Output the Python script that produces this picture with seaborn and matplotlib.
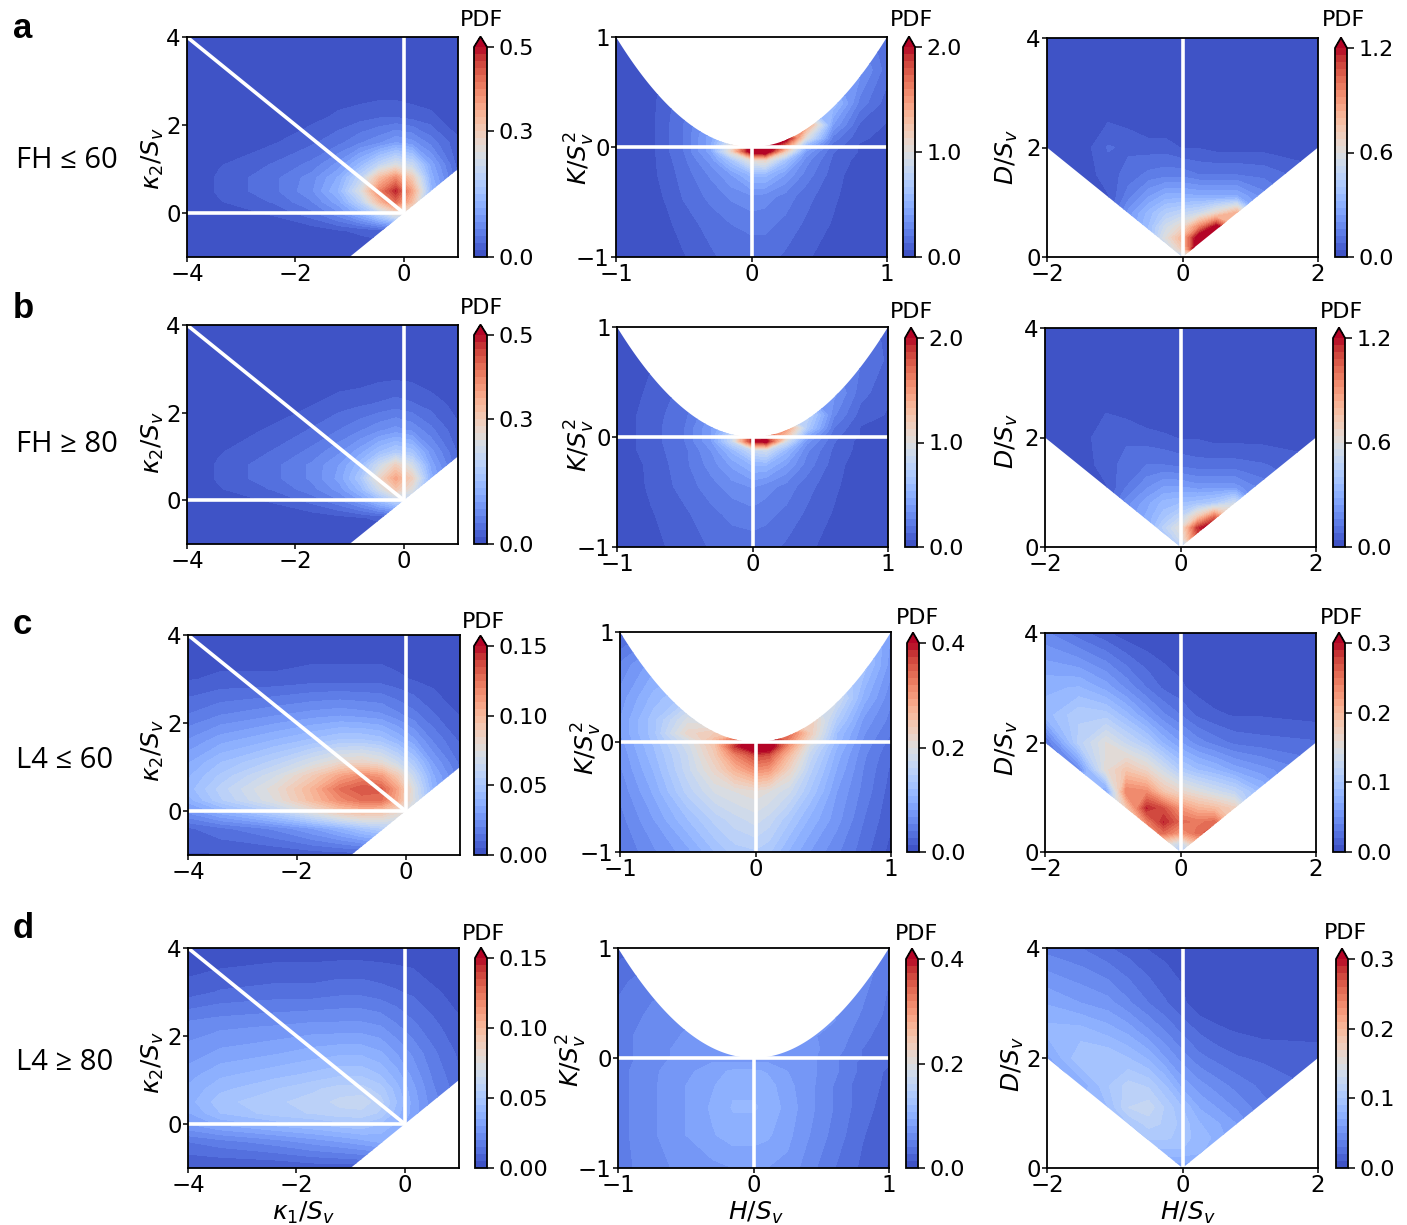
# recreate curvature PDF panels (contourf on hand read grids)
import numpy as np
import matplotlib
matplotlib.use("Agg")
import matplotlib.pyplot as plt
from matplotlib.patches import Polygon
import seaborn as sns

W, H = 1407, 1225

# grid coordinates for each column
k1_x = [-4, -3.4, -2.4, -1.7, -1.2, -0.8, -0.45, -0.15, 0.15, 0.5, 1]
k2_y = [-1, -0.4, 0, 0.25, 0.5, 0.8, 1.1, 1.6, 2.2, 3, 4]
h_x = [-1, -0.75, -0.5, -0.3, -0.15, 0, 0.1, 0.25, 0.4, 0.6, 0.8, 1]
k_y = [-1, -0.7, -0.45, -0.25, -0.12, -0.04, 0.02, 0.08, 0.2, 0.4, 0.7, 1]
h2_x = [-2, -1.5, -1.1, -0.8, -0.5, -0.25, 0, 0.25, 0.5, 0.8, 1.2, 2]
d_y = [0, 0.15, 0.35, 0.55, 0.8, 1.1, 1.5, 2, 2.5, 3, 4]

# values, in percent of the top of each colour bar
a1 = [[0,0,0,0,0,0,0,0,0,0,0],
      [0,0,0,1,3,4,5,5,5,5,5],
      [0,1,4,9,16,26,40,55,50,20,5],
      [0,3,7,13,22,38,65,85,65,25,6],
      [0,4,9,16,27,48,80,97,72,28,7],
      [0,4,9,15,24,40,65,78,60,25,7],
      [0,3,7,11,18,28,40,48,42,22,5],
      [0,1,3,6,9,13,16,20,18,12,4],
      [0,0,1,2,4,5,6,6,5,4,1],
      [0,0,0,0,0,0,0,0,0,0,0],
      [0,0,0,0,0,0,0,0,0,0,0]]
b1 = [[0,0,0,0,0,0,0,0,0,0,0],
      [0,0,0,1,2,3,4,4,4,4,4],
      [0,1,4,8,13,20,30,40,38,18,5],
      [0,3,7,12,18,28,45,62,50,22,6],
      [0,4,9,14,21,33,55,72,58,25,7],
      [0,4,9,14,20,29,44,58,46,22,7],
      [0,3,7,11,16,22,30,35,32,18,6],
      [0,1,4,7,10,13,16,18,16,11,4],
      [0,0,1,3,5,6,7,8,7,5,2],
      [0,0,0,0,0,0,1,1,1,0,0],
      [0,0,0,0,0,0,0,0,0,0,0]]
c1 = [[3,3,3,4,4,4,5,5,5,5,5],
      [6,9,14,20,26,32,36,38,38,30,15],
      [18,26,38,52,62,66,64,55,45,30,15],
      [25,36,50,66,78,84,84,70,48,28,14],
      [28,38,52,68,84,90,88,72,48,26,12],
      [26,34,46,60,72,78,74,60,42,24,11],
      [23,30,38,47,54,56,52,44,34,20,9],
      [17,22,27,31,34,34,32,27,21,13,6],
      [10,13,16,18,19,18,17,14,11,7,3],
      [3,4,4,5,5,5,5,4,3,2,0],
      [0,0,0,0,0,0,0,0,0,0,0]]
d1 = [[3,3,3,4,4,4,5,5,5,5,5],
      [10,12,15,18,20,22,24,25,25,20,10],
      [20,24,28,30,32,33,30,26,20,14,8],
      [23,30,35,37,39,39,36,28,22,15,9],
      [25,32,36,38,41,42,38,30,22,15,9],
      [24,29,33,36,38,38,35,28,21,14,8],
      [22,26,29,31,33,33,30,25,19,13,7],
      [18,21,23,25,26,26,24,20,16,11,6],
      [15,16,17,18,18,18,17,14,11,8,4],
      [5,7,8,8,9,9,8,7,6,4,2],
      [0,0,1,1,1,1,1,1,1,0,0]]

a2 = [[0,0,3,6,8,8,8,6,4,1,0,0],
      [0,0,5,8,10,11,11,9,6,3,0,0],
      [0,1,7,11,14,16,15,12,8,4,1,0],
      [0,2,8,14,20,28,28,20,12,5,1,0],
      [0,2,9,18,32,52,55,32,15,6,2,0],
      [0,2,10,22,55,110,115,60,20,7,3,1],
      [0,2,10,22,50,110,120,85,30,9,3,1],
      [0,2,10,22,40,60,90,110,50,12,4,2],
      [0,2,10,20,30,30,40,60,75,20,6,3],
      [0,2,9,15,15,15,20,25,30,30,12,5],
      [0,1,7,10,10,10,12,12,15,20,18,8],
      [0,1,4,5,5,5,6,6,7,10,12,8]]
b2 = [[0,2,5,7,8,8,8,6,4,2,0,0],
      [0,3,6,9,11,12,11,9,6,3,1,0],
      [0,4,8,12,15,17,15,12,8,4,1,0],
      [1,4,9,15,21,27,27,20,12,5,1,0],
      [1,5,9,17,28,42,45,28,14,6,2,0],
      [1,5,10,20,42,100,105,45,18,7,2,1],
      [1,5,10,20,40,100,90,65,25,8,3,1],
      [1,5,10,20,30,45,65,75,35,10,3,2],
      [1,5,9,17,22,22,28,40,40,14,5,3],
      [1,4,8,12,12,12,15,18,20,18,8,4],
      [1,3,6,8,8,8,9,9,10,13,10,6],
      [1,2,4,5,5,5,5,5,5,7,8,6]]
c2 = [[10,16,22,30,35,36,34,26,20,14,8,2],
      [12,20,30,38,42,45,42,34,26,18,10,4],
      [14,24,38,47,50,52,50,44,33,20,12,5],
      [16,27,42,55,68,78,75,56,38,23,13,6],
      [17,29,43,60,80,92,90,65,42,25,14,7],
      [18,30,45,62,95,115,110,75,46,27,15,8],
      [19,31,48,65,85,110,105,80,55,29,16,9],
      [20,32,55,60,60,60,75,85,60,30,17,10],
      [20,32,48,45,45,45,50,60,60,36,19,12],
      [18,28,35,35,35,35,38,40,45,45,25,14],
      [14,22,25,25,25,25,28,30,32,35,32,18],
      [5,12,15,15,15,15,18,20,22,25,30,20]]
d2 = [[12,15,18,19,20,20,20,19,15,10,6,3],
      [12,16,20,23,25,25,24,21,17,12,7,4],
      [12,16,20,24,27,27,26,22,18,13,8,5],
      [12,16,20,23,26,26,25,21,18,13,8,6],
      [12,16,19,22,24,24,23,20,18,14,9,6],
      [12,15,19,20,20,20,20,19,18,14,9,7],
      [12,15,18,18,18,18,18,18,18,14,10,7],
      [12,15,18,18,18,18,18,18,18,15,10,8],
      [12,15,17,17,17,17,17,17,17,16,11,8],
      [11,14,16,16,16,16,16,16,17,17,13,9],
      [9,12,14,14,14,14,15,15,16,17,15,10],
      [5,8,10,10,10,10,12,12,14,16,18,11]]

a3 = [[30,30,30,30,30,35,40,70,100,60,20,5],
      [30,30,30,30,30,40,60,120,120,60,20,5],
      [20,20,20,20,30,50,68,110,110,60,20,5],
      [15,15,15,20,30,45,55,80,105,70,20,5],
      [5,5,5,18,28,36,40,44,55,70,20,5],
      [3,3,3,12,20,25,25,24,24,24,15,5],
      [1,1,5,8,11,12,12,10,10,10,9,4],
      [0,1,7,6,5,5,3,3,2,2,2,2],
      [0,0,3,2,0,0,0,0,0,0,0,0],
      [0,0,0,0,0,0,0,0,0,0,0,0],
      [0,0,0,0,0,0,0,0,0,0,0,0]]
b3 = [[25,25,25,25,25,30,35,60,80,50,15,5],
      [25,25,25,25,25,30,45,90,100,60,15,5],
      [20,20,20,20,24,38,50,95,110,60,15,5],
      [15,15,15,18,24,32,40,60,85,60,15,5],
      [5,5,5,15,22,28,30,32,35,45,15,5],
      [3,3,3,10,16,20,20,18,18,18,12,5],
      [1,1,5,8,10,10,9,8,8,8,7,4],
      [0,1,6,6,5,4,3,3,2,2,2,2],
      [0,0,3,2,0,0,0,0,0,0,0,0],
      [0,0,0,0,0,0,0,0,0,0,0,0],
      [0,0,0,0,0,0,0,0,0,0,0,0]]
c3 = [[50,50,50,50,50,55,30,55,50,50,20,5],
      [50,50,50,50,60,55,42,65,60,50,20,5],
      [50,50,50,55,78,85,75,85,90,60,20,5],
      [40,40,40,45,80,97,85,82,85,60,25,8],
      [30,30,35,60,97,90,75,68,65,58,25,10],
      [25,28,20,80,78,62,55,50,45,40,28,10],
      [10,15,52,62,55,45,35,30,27,22,18,12],
      [8,38,50,42,35,26,20,15,12,9,8,7],
      [28,36,35,28,20,14,10,6,4,3,3,2],
      [26,27,22,16,10,6,4,2,1,0,0,0],
      [14,8,4,1,0,0,0,0,0,0,0,0]]
d3 = [[20,20,20,20,20,20,20,20,20,15,10,5],
      [25,25,25,25,25,25,25,25,22,18,10,5],
      [30,30,30,30,30,30,30,28,24,20,10,5],
      [30,30,30,30,34,34,32,28,26,20,12,5],
      [30,30,30,33,38,36,32,27,24,20,12,6],
      [25,28,30,40,42,36,30,23,20,16,11,6],
      [20,24,33,38,36,30,22,18,15,12,9,6],
      [22,33,33,30,26,20,15,11,9,7,6,5],
      [28,28,25,22,17,13,9,6,4,3,2,2],
      [23,20,18,14,10,7,4,1,1,1,1,0],
      [12,10,7,5,3,2,2,0,0,0,0,0]]

grids = [[a1, a2, a3], [b1, b2, b3], [c1, c2, c3], [d1, d2, d3]]
cbar_tops = [[0.5, 2.0, 1.2], [0.5, 2.0, 1.2], [0.15, 0.4, 0.3], [0.15, 0.4, 0.3]]
cbar_ticks = [[[0.0, 0.3, 0.5], [0.0, 1.0, 2.0], [0.0, 0.6, 1.2]],
              [[0.0, 0.3, 0.5], [0.0, 1.0, 2.0], [0.0, 0.6, 1.2]],
              [[0.0, 0.05, 0.10, 0.15], [0.0, 0.2, 0.4], [0.0, 0.1, 0.2, 0.3]],
              [[0.0, 0.05, 0.10, 0.15], [0.0, 0.2, 0.4], [0.0, 0.1, 0.2, 0.3]]]
cbar_fmt = [["%.1f"] * 3, ["%.1f"] * 3, ["%.2f", "%.1f", "%.1f"], ["%.2f", "%.1f", "%.1f"]]
row_names = ["FH \u2264 60", "FH \u2265 80", "L4 \u2264 60", "L4 \u2265 80"]
row_letters = ["a", "b", "c", "d"]

# pixel boxes: left, right, top, bottom (colour bar top is the top tick, arrow goes above it)
ax_boxes = [[(187, 458, 37, 257), (616, 887, 37, 257), (1047, 1318, 38, 257)],
            [(187, 458, 325, 544), (617, 888, 327, 547), (1045, 1316, 328, 547)],
            [(188, 460, 635, 855), (620, 891, 632, 852), (1045, 1316, 633, 852)],
            [(188, 459, 948, 1168), (618, 889, 948, 1168), (1047, 1318, 948, 1168)]]
cb_boxes = [[(474, 487, 47, 257), (903, 915, 47, 257), (1335, 1347, 48, 257)],
            [(474, 487, 335, 544), (905, 917, 338, 547), (1333, 1345, 338, 547)],
            [(474, 487, 646, 855), (907, 919, 643, 852), (1333, 1345, 643, 852)],
            [(475, 487, 958, 1168), (906, 918, 959, 1168), (1336, 1348, 959, 1168)]]
pdf_xy = [[(482, 20), (911, 20), (1344, 20)],
          [(482, 308), (912, 312), (1342, 312)],
          [(483, 622), (917, 618), (1342, 618)],
          [(483, 934), (916, 934), (1345, 933)]]
name_y = [161, 444, 760, 1063]
letter_y = [29, 308, 625, 929]
ylabel_x = [[153, 580, 1007], [153, 580, 1007], [153, 587, 1007], [153, 572, 1013]]
ylabel_y = [[158, 158, 157], [442, 445, 441], [750, 748, 748], [1062, 1060, 1064]]
xlabel_x = [304, 756, 1188]
xlabel_y = 1213

sns.set_theme(style="ticks", font="DejaVu Sans", rc={"axes.edgecolor": "black", "axes.linewidth": 1.3,
                                                     "xtick.color": "black", "ytick.color": "black",
                                                     "text.color": "black", "axes.labelcolor": "black",
                                                     "mathtext.fontset": "dejavusans"})
cmap = sns.color_palette("coolwarm", as_cmap=True)


def add_box(fig, box):
    l, r, t, b = box
    return fig.add_axes([l / W, 1 - b / H, (r - l) / W, (b - t) / H])


def domain(col):
    if col == 0:
        return [(-4, -1), (-1, -1), (1, 1), (1, 4), (-4, 4)]
    if col == 1:
        hs = np.linspace(-1, 1, 201)
        return list(zip(hs, hs ** 2)) + [(1, -1), (-1, -1)]
    return [(-2, 2), (0, 0), (2, 2), (2, 4), (-2, 4)]


xs = [k1_x, h_x, h2_x]
ys = [k2_y, k_y, d_y]
xlims = [(-4, 1), (-1, 1), (-2, 2)]
ylims = [(-1, 4), (-1, 1), (0, 4)]
xticks = [[-4, -2, 0], [-1, 0, 1], [-2, 0, 2]]
yticks = [[0, 2, 4], [-1, 0, 1], [0, 2, 4]]
ylabels = [r"$\kappa_2/S_v$", r"$K/S_v^2$", r"$D/S_v$"]
xlabels = [r"$\kappa_1/S_v$", r"$H/S_v$", r"$H/S_v$"]
# white guide lines per column, in data units
guides = [[((-4, 0), (4, 0)), ((-4, 0), (0, 0)), ((0, 0), (0, 4))],
          [((-1, 1), (0, 0)), ((0, 0), (-1, 0))],
          [((0, 0), (0, 4))]]

fig = plt.figure(figsize=(W / 100, H / 100), dpi=100)

for r in range(4):
    fig.text(16 / W, 1 - name_y[r] / H, row_names[r], fontsize=21, family="Open Sans", va="center", ha="left")
    fig.text(13 / W, 1 - letter_y[r] / H, row_letters[r], fontsize=25, family="Liberation Sans",
             weight="bold", va="center", ha="left")
    for c in range(3):
        ax = add_box(fig, ax_boxes[r][c])
        top = cbar_tops[r][c]
        z = np.array(grids[r][c]) / 100 * top
        levels = np.linspace(0, top, 31)
        cs = ax.contourf(xs[c], ys[c], z, levels=levels, cmap=cmap, extend="max")
        cs.set_clip_path(Polygon(domain(c), closed=True, transform=ax.transData))
        for gx, gy in guides[c]:
            ax.plot(gx, gy, color="white", lw=2.6, solid_capstyle="butt")
        ax.set_xlim(xlims[c])
        ax.set_ylim(ylims[c])
        ax.set_xticks(xticks[c])
        ax.set_yticks(yticks[c])
        ax.tick_params(labelsize=16.5, length=3.5, width=1.1, pad=1)
        l, rr, t, b = ax_boxes[r][c]
        ax.set_ylabel(ylabels[c], fontsize=18, va="center")
        ax.yaxis.set_label_coords((ylabel_x[r][c] - l) / (rr - l), (b - ylabel_y[r][c]) / (b - t))
        if r == 3:
            ax.set_xlabel(xlabels[c], fontsize=18, va="center")
            ax.xaxis.set_label_coords((xlabel_x[c] - l) / (rr - l), (b - xlabel_y) / (b - t))

        # extend="max" puts the arrow inside cax, so grow the box by the arrow length
        cl, cr, ct, cb_b = cb_boxes[r][c]
        cax = add_box(fig, (cl, cr, ct - 0.05 * (cb_b - ct), cb_b))
        cb = fig.colorbar(cs, cax=cax, extend="max")
        cb.set_ticks(cbar_ticks[r][c])
        cb.ax.set_yticklabels([cbar_fmt[r][c] % v for v in cbar_ticks[r][c]])
        cb.ax.tick_params(labelsize=16, length=5, width=1.1, pad=3)
        cb.outline.set_linewidth(1.3)
        cb.outline.set_edgecolor("black")
        px, py = pdf_xy[r][c]
        fig.text(px / W, 1 - py / H, "PDF", fontsize=16, ha="center", va="center")

fig.savefig("out.png", dpi=100)
